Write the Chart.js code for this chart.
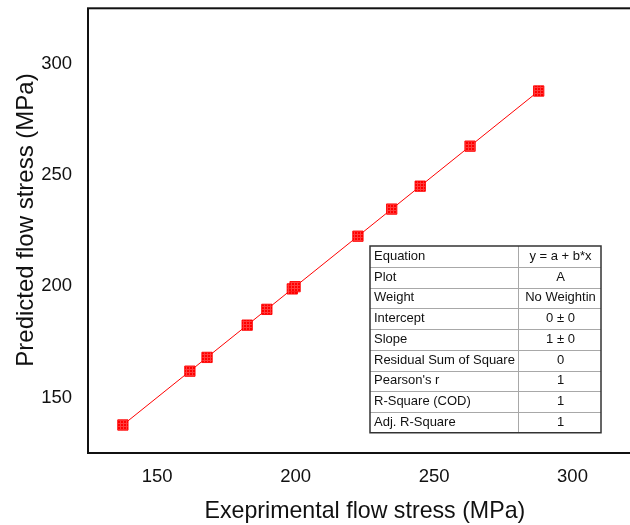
<!DOCTYPE html>
<html>
<head>
<meta charset="utf-8">
<script src="https://cdn.jsdelivr.net/npm/chart.js@4.4.0/dist/chart.umd.min.js"></script>
<style>
  html, body { margin: 0; padding: 0; overflow: hidden; background: #fff; }
  #wrap { width: 650px; height: 525px; }
</style>
</head>
<body>
<div id="wrap"><canvas id="flowChart" width="650" height="525"></canvas></div>
<script>
// measured vs. model flow stress, MPa
const expStress  = [137.6, 161.8, 168.0, 182.5, 189.6, 198.8, 199.8, 222.5, 234.7, 245.0, 263.0, 287.8];
const predStress = [137.6, 161.8, 168.0, 182.5, 189.6, 198.8, 199.8, 222.5, 234.7, 245.0, 263.0, 287.8];

// linear fit result (y = a + b*x)
const fitIntercept = 0;
const fitSlope = 1;

const xTicks = [150, 200, 250, 300];
const yTicks = [150, 200, 250, 300];

// fit summary box
const statLabels = ['Equation', 'Plot', 'Weight', 'Intercept', 'Slope', 'Residual Sum of Square', "Pearson's r", 'R-Square (COD)', 'Adj. R-Square'];
const statValues = ['y = a + b*x', 'A', 'No Weightin', '0 \u00b1 0', '1 \u00b1 0', '0', '1', '1', '1'];

const FONT = '"Liberation Sans", Arial, sans-serif';
const INK = '#111';

const ctx = document.getElementById('flowChart').getContext('2d');

// small crosshatch used to fill the square markers
function markerFill() {
  const tile = document.createElement('canvas');
  tile.width = 3;
  tile.height = 3;
  const t = tile.getContext('2d');
  t.fillStyle = '#ff0000';
  t.fillRect(0, 0, 3, 3);
  t.fillStyle = '#ff3c3c';
  t.fillRect(0, 0, 3, 1);
  t.fillRect(0, 0, 1, 3);
  return ctx.createPattern(tile, 'repeat');
}

const points = expStress.map((x, i) => ({ x: x, y: predStress[i] }));
const xLo = Math.min(...expStress);
const xHi = Math.max(...expStress);
const fitLine = [xLo, xHi].map(x => ({ x: x, y: fitIntercept + fitSlope * x }));

const framePlugin = {
  id: 'framePlugin',
  afterDraw(chart) {
    const c = chart.ctx;
    const a = chart.chartArea;
    c.save();

    // box around the plotting area
    c.strokeStyle = INK;
    c.lineWidth = 2;
    c.strokeRect(a.left, a.top, a.right - a.left, a.bottom - a.top);

    // y axis title
    c.fillStyle = INK;
    c.font = '24px ' + FONT;
    c.textAlign = 'center';
    c.textBaseline = 'middle';
    c.translate(26, 220);
    c.rotate(-Math.PI / 2);
    c.fillText('Predicted flow stress (MPa)', 0, 0);
    c.restore();

    // statistics table
    c.save();
    const left = 370, top = 246, split = 518, right = 601, rowH = 20.75;
    const bottom = top + rowH * statLabels.length;
    c.fillStyle = '#fff';
    c.fillRect(left, top, right - left, bottom - top);

    c.strokeStyle = '#a8a8a8';
    c.lineWidth = 1;
    c.beginPath();
    for (let i = 1; i < statLabels.length; i++) {
      const y = Math.round(top + rowH * i) + 0.5;
      c.moveTo(left, y);
      c.lineTo(right, y);
    }
    c.moveTo(split + 0.5, top);
    c.lineTo(split + 0.5, bottom);
    c.stroke();

    c.strokeStyle = '#333';
    c.lineWidth = 1.5;
    c.strokeRect(left, top, right - left, bottom - top);

    c.fillStyle = INK;
    c.font = '13px ' + FONT;
    c.textBaseline = 'middle';
    statLabels.forEach((txt, i) => {
      const y = top + rowH * i + rowH / 2;
      c.textAlign = 'left';
      c.fillText(txt, left + 4, y);
      c.textAlign = 'center';
      c.fillText(statValues[i], (split + right) / 2 + 1, y);
    });
    c.restore();
  }
};

const chart = new Chart(ctx, {
  type: 'scatter',
  data: {
    datasets: [{
      label: 'Predicted',
      data: points,
      pointStyle: 'rect',
      pointRadius: 7.3,
      pointBorderWidth: 1,
      pointBorderColor: 'rgba(255, 0, 0, 0.9)',
      pointBackgroundColor: markerFill(),
      showLine: false
    }, {
      type: 'line',
      label: 'Linear fit',
      data: fitLine,
      borderColor: 'rgb(255, 0, 0)',
      borderWidth: 1,
      pointRadius: 0,
      fill: false
    }]
  },
  options: {
    responsive: false,
    animation: false,
    layout: {
      padding: { top: 7, right: 8, left: 0, bottom: 0 }
    },
    plugins: {
      legend: { display: false },
      tooltip: { enabled: false }
    },
    scales: {
      x: {
        type: 'linear',
        min: 125,
        max: 325,
        afterFit: s => {
          s.height = 72;
          s.paddingLeft = 0;
          s.paddingRight = 0;
        },
        afterBuildTicks: s => { s.ticks = xTicks.map(v => ({ value: v })); },
        grid: { display: false, drawTicks: false },
        border: { display: false },
        ticks: {
          padding: 13,
          color: INK,
          font: { family: FONT, size: 18.5 }
        },
        title: {
          display: true,
          text: 'Exeprimental flow stress (MPa)',
          color: INK,
          font: { family: FONT, size: 23.2, lineHeight: 1 },
          padding: { top: 0, bottom: 2 }
        }
      },
      y: {
        type: 'linear',
        min: 125,
        max: 325,
        afterFit: s => {
          s.width = 88;
          s.paddingTop = 0;
          s.paddingBottom = 0;
        },
        afterBuildTicks: s => { s.ticks = yTicks.map(v => ({ value: v })); },
        grid: { display: false, drawTicks: false },
        border: { display: false },
        ticks: {
          padding: 16,
          color: INK,
          font: { family: FONT, size: 18.5 }
        }
      }
    }
  },
  plugins: [framePlugin]
});
</script>
</body>
</html>
